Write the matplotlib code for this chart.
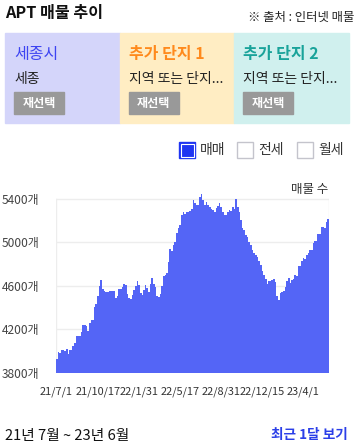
import numpy as np
import matplotlib
matplotlib.use('Agg')
import matplotlib.pyplot as plt
from matplotlib.patches import Rectangle

plt.rcParams['font.family'] = ['Noto Sans CJK KR', 'DejaVu Sans']

W, H = 358, 447

# 매물 수 (약 4.3일 간격)
listings = [
    3933, 3992, 3983, 4008, 4008, 3999, 4023, 3977, 4014, 4014,
    4045, 4075, 4142, 4142, 4142, 4173, 4243, 4240, 4235, 4190,
    4258, 4289, 4289, 4405, 4436, 4503, 4595, 4656, 4571, 4550,
    4545, 4545, 4550, 4550, 4550, 4550, 4488, 4510, 4571, 4571,
    4590, 4620, 4610, 4528, 4488, 4479, 4520, 4565, 4595, 4641,
    4611, 4534, 4513, 4565, 4608, 4580, 4540, 4620, 4669, 4620,
    4590, 4503, 4497, 4525, 4601, 4687, 4702, 4718, 4819, 4938,
    4917, 4978, 5008, 5085, 5137, 5161, 5253, 5278, 5262, 5278,
    5278, 5293, 5305, 5391, 5360, 5345, 5345, 5421, 5446, 5391,
    5345, 5375, 5345, 5330, 5305, 5299, 5284, 5314, 5336, 5360,
    5323, 5284, 5253, 5253, 5284, 5299, 5293, 5330, 5311, 5397,
    5330, 5275, 5207, 5131, 5116, 5070, 5054, 5008, 4978, 4932,
    4901, 4886, 4864, 4825, 4794, 4733, 4702, 4663, 4620, 4641,
    4641, 4656, 4663, 4632, 4510, 4473, 4534, 4543, 4550, 4590,
    4641, 4672, 4626, 4656, 4660, 4702, 4695, 4779, 4785, 4825,
    4856, 4850, 4886, 4901, 4932, 4932, 4993, 5014, 5014, 5079,
    5075, 5140, 5140, 5135, 5183, 5216,
]
y_ticks = [3800, 4200, 4600, 5000, 5400]
x_tick_days = [0, 108, 214, 320, 426, 532, 639]
x_tick_labels = ['21/7/1', '21/10/17', '22/1/31', '22/5/17', '22/8/31', '22/12/15', '23/4/1']
span_days = 705

panels = [
    ('세종시', '세종', '#3D44F2', '#D4D5FA'),
    ('추가 단지 1', '지역 또는 단지...', '#FF8A1C', '#FFEDC3'),
    ('추가 단지 2', '지역 또는 단지...', '#19A39A', '#D0F0EE'),
]
legend_items = ['매매', '전세', '월세']


def fx(x):
    return x / W


def fy(y):
    return 1 - y / H


fig = plt.figure(figsize=(W / 100, H / 100), dpi=100)

# 제목
fig.text(fx(5), fy(13), 'APT 매물 추이', fontsize=11.6, fontweight='bold', va='center', color='#111')
fig.text(fx(354), fy(17), '※ 출처 : 인터넷 매물', fontsize=8.9, va='center', ha='right', color='#222')

# 단지 패널
x0 = 5
for i, (name, sub, c, bg) in enumerate(panels):
    left = x0 + i * 114.7
    fig.patches.append(Rectangle((fx(left), fy(123)), 114.7 / W, 90 / H,
                                 transform=fig.transFigure, color=bg, zorder=0))
    fig.text(fx(left + 9), fy(54), name, fontsize=11.5, color=c, va='center',
             fontweight='bold' if i > 0 else 'normal')
    fig.text(fx(left + 9), fy(79), sub, fontsize=10, color='#222', va='center')
    fig.patches.append(Rectangle((fx(left + 9), fy(114)), 50 / W, 22 / H,
                                 transform=fig.transFigure, color='#999999', zorder=1))
    fig.text(fx(left + 34), fy(103), '재선택', fontsize=8.7, color='white',
             fontweight='bold', ha='center', va='center')

# 범례 체크박스
box_x = [179, 237, 297]
for bx, label in zip(box_x, legend_items):
    if label == '매매':
        fig.patches.append(Rectangle((fx(bx), fy(158)), 16 / W, 16 / H, transform=fig.transFigure,
                                     facecolor='#1F35F2', edgecolor='#1F35F2', lw=1))
        fig.patches.append(Rectangle((fx(bx + 1.5), fy(156.5)), 13 / W, 13 / H, transform=fig.transFigure,
                                     facecolor='#1F35F2', edgecolor='white', lw=0.8))
    else:
        fig.patches.append(Rectangle((fx(bx), fy(158)), 16 / W, 16 / H, transform=fig.transFigure,
                                     facecolor='white', edgecolor='#C4C4CC', lw=1))
    fig.text(fx(bx + 21), fy(150), label, fontsize=10, color='#333', va='center')

# 차트
ax = fig.add_axes([fx(56), fy(373), 273 / W, 185 / H])
n = len(listings)
step = span_days / n
xs = np.arange(n) * step
ax.bar(xs, listings, width=step, align='edge', color='#5465F6', linewidth=0, zorder=2)
ax.set_xlim(0, span_days)
ax.set_ylim(3800, 5500)
for yv in y_ticks[1:]:
    ax.axhline(yv, color='#EDEDED', lw=1, zorder=1)
ax.plot([0, 0], [3800, 5400], color='#EDEDED', lw=1, zorder=1)
ax.plot([span_days, span_days], [3800, 5400], color='#EDEDED', lw=1, zorder=1)
for s in ax.spines.values():
    s.set_visible(False)
ax.set_yticks(y_ticks)
ax.set_yticklabels([f'{v}개' for v in y_ticks], fontsize=8.6, color='#444')
ax.set_xticks(x_tick_days)
ax.set_xticklabels(x_tick_labels, fontsize=7.9, color='#333')
ax.tick_params(length=0)
ax.tick_params(axis='x', pad=10)
ax.tick_params(axis='y', pad=12)
fig.text(fx(328), fy(190), '매물 수', fontsize=9, color='#333', ha='right', va='center')

# 하단
fig.text(fx(5), fy(436), '21년 7월 ~ 23년 6월', fontsize=10.6, color='#111', va='center')
fig.text(fx(348), fy(435), '최근 1달 보기', fontsize=9.8, color='#2B3FE8', ha='right',
         va='center', fontweight='bold')

fig.savefig('out.png', dpi=100)
